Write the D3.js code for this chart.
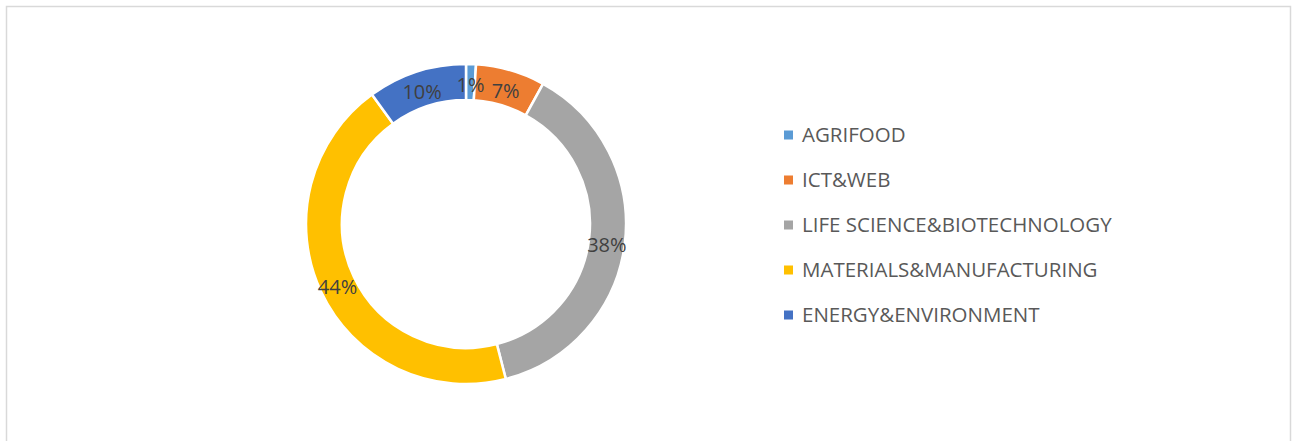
<!DOCTYPE html>
<html>
<head>
<meta charset="utf-8">
<script src="https://cdn.jsdelivr.net/npm/d3@7"></script>
<style>
  body { margin: 0; background: #fff; }
  text { font-family: "Open Sans", "Liberation Sans", sans-serif; }
</style>
</head>
<body>
<script>
var svgWidth = 1297;
var svgHeight = 441;

// data
var categories = ["AGRIFOOD", "ICT&WEB", "LIFE SCIENCE&BIOTECHNOLOGY", "MATERIALS&MANUFACTURING", "ENERGY&ENVIRONMENT"];
var values = [1, 7, 38, 44, 10];
var colors = ["#5B9BD5", "#ED7D31", "#A5A5A5", "#FFC000", "#4472C4"];

var cx = 466, cy = 224;
var outerR = 160, innerR = 124;

var svg = d3.select("body")
  .append("svg")
  .attr("width", svgWidth)
  .attr("height", svgHeight);

// chart frame
svg.append("rect")
  .attr("x", 6.5)
  .attr("y", 6.5)
  .attr("width", 1284)
  .attr("height", 460)
  .attr("fill", "none")
  .attr("stroke", "#d9d9d9")
  .attr("stroke-width", 1.5);

var pie = d3.pie().sort(null).value(d => d);
var arcs = pie(values);

var arc = d3.arc().innerRadius(innerR).outerRadius(outerR);
var labelArc = d3.arc().innerRadius((innerR + outerR) / 2).outerRadius((innerR + outerR) / 2);

var chartGroup = svg.append("g")
  .attr("transform", `translate(${cx}, ${cy})`);

chartGroup.selectAll("path")
  .data(arcs)
  .enter()
  .append("path")
  .attr("d", arc)
  .attr("fill", (d, i) => colors[i])
  .attr("stroke", "#fff")
  .attr("stroke-width", 2.5);

var total = d3.sum(values);
chartGroup.selectAll(".lbl")
  .data(arcs)
  .enter()
  .append("text")
  .attr("class", "lbl")
  .attr("x", d => labelArc.centroid(d)[0])
  .attr("y", d => labelArc.centroid(d)[1])
  .attr("dy", "0.5em")
  .attr("text-anchor", "middle")
  .attr("font-size", "20px")
  .attr("fill", "#404040")
  .text(d => Math.round(d.data / total * 100) + "%");

// legend
var legend = svg.append("g")
  .attr("transform", "translate(784, 135)");

var rows = legend.selectAll("g")
  .data(categories)
  .enter()
  .append("g")
  .attr("transform", (d, i) => `translate(0, ${i * 45})`);

rows.append("rect")
  .attr("x", 0)
  .attr("y", -4.5)
  .attr("width", 9)
  .attr("height", 9)
  .attr("fill", (d, i) => colors[i]);

rows.append("text")
  .attr("x", 18)
  .attr("y", 0)
  .attr("dy", "0.35em")
  .attr("font-size", "20.5px")
  .attr("fill", "#595959")
  .text(d => d);
</script>
</body>
</html>
